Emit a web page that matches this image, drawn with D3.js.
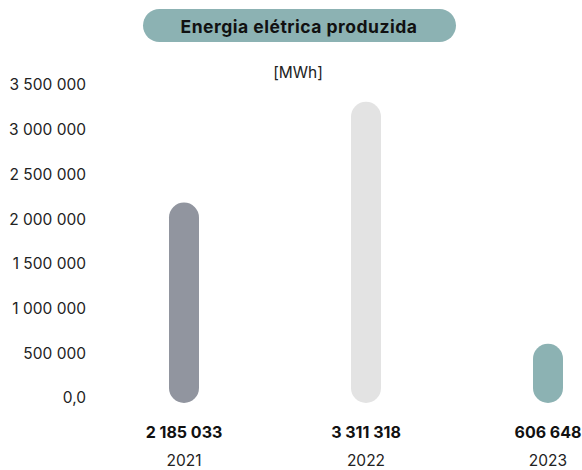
<!DOCTYPE html>
<html><head><meta charset="utf-8">
<script src="https://cdn.jsdelivr.net/npm/d3@7"></script>
<style>
body{margin:0;background:#fff;}
svg{display:block;font-family:"Inter",sans-serif;}
</style></head>
<body><svg id="c" width="582" height="470"></svg>
<script>
const years = ["2021","2022","2023"];
const values = [2185033, 3311318, 606648];
const colors = ["#91959f","#e3e3e3","#8cb2b3"];
const tickValues = [0,500000,1000000,1500000,2000000,2500000,3000000,3500000];
const titleText = "Energia elétrica produzida";
const unitText = "[MWh]";

const svg = d3.select("#c");
const loc = d3.formatLocale({decimal:",", thousands:"\u00a0", grouping:[3], currency:["",""]});
const fmt = loc.format(",d");

const y = d3.scaleLinear().domain([0,3500000]).range([398,85]);
const x = d3.scaleBand().domain(years).range([93,639]).padding(0);

// title pill
svg.append("rect").attr("x",143).attr("y",9).attr("width",313).attr("height",33)
  .attr("rx",16.5).attr("fill","#8cb2b3");
svg.append("text").attr("x",299).attr("y",26).attr("text-anchor","middle")
  .attr("dominant-baseline","central").attr("font-weight","bold").attr("font-size",17.5)
  .attr("letter-spacing",0.5)
  .attr("fill","#111").text(titleText);
svg.append("text").attr("x",298).attr("y",72).attr("text-anchor","middle")
  .attr("dominant-baseline","central").attr("font-size",15.5).attr("fill","#222").text(unitText);

// y axis
const ax = svg.append("g").attr("transform","translate(86,0)")
  .call(d3.axisLeft(y).tickValues(tickValues).tickSize(0).tickPadding(0)
    .tickFormat(d => d===0 ? "0,0" : fmt(d)));
ax.select(".domain").remove();
ax.selectAll("text").attr("font-size",15.5).attr("fill","#222").attr("font-family","Inter, sans-serif");

// bars
const bw = 30;
svg.selectAll("rect.bar").data(values).join("rect").attr("class","bar")
  .attr("x",(d,i)=>x(years[i])+x.bandwidth()/2-bw/2)
  .attr("width",bw)
  .attr("y",d=>y(d))
  .attr("height",d=>y(0)+5-y(d))
  .attr("rx",bw/2)
  .attr("fill",(d,i)=>colors[i]);

// value labels
svg.selectAll("text.val").data(values).join("text").attr("class","val")
  .attr("x",(d,i)=>x(years[i])+x.bandwidth()/2).attr("y",432)
  .attr("text-anchor","middle").attr("dominant-baseline","central")
  .attr("font-weight","bold").attr("font-size",16).attr("fill","#111")
  .text(d=>fmt(d));
svg.selectAll("text.yr").data(years).join("text").attr("class","yr")
  .attr("x",d=>x(d)+x.bandwidth()/2).attr("y",460)
  .attr("text-anchor","middle").attr("dominant-baseline","central")
  .attr("font-size",15.5).attr("fill","#222").text(d=>d);
</script></body></html>
